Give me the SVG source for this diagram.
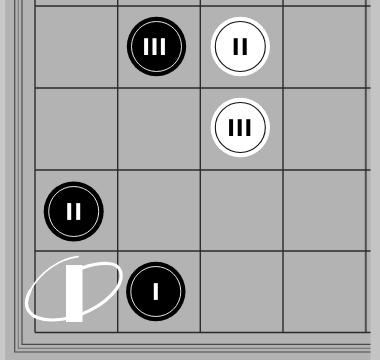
<svg xmlns="http://www.w3.org/2000/svg" width="380" height="360" viewBox="0 0 380 360">
<style>
.grid{stroke:#2b2b2b;stroke-width:1.4;fill:none}
.edge{stroke:#4a4a4a;stroke-width:1.2;fill:none}
.edge2{stroke:#7a7a7a;stroke-width:1.2;fill:none}
.bk{fill:#000}
.bk-ring{fill:none;stroke:#fff;stroke-width:0.9}
.wt{fill:#fff}
.wt-ring{fill:none;stroke:#111;stroke-width:1.1}
.wbar{fill:#fff}
.bbar{fill:#000}
</style>
<rect x="0" y="0" width="380" height="360" fill="#b3b3b3"/>
<rect x="0" y="0" width="5" height="360" fill="#c9c9c9"/>
<rect x="370.5" y="0" width="10" height="360" fill="#c4c4c4"/>
<g id="board">
<path class="edge" d="M14.7,0 V352 H370.5"/>
<path class="edge2" d="M18.3,0 V348.3 H370.5"/>
<path class="edge" d="M22,0 V344.3 H370.5"/>
<path class="grid" d="M35,0 V332.5 M117.7,0 V332.5 M200.3,0 V332.5 M283,0 V332.5"/>
<path d="M365.8,0 V332.5" stroke="#4f4f4f" stroke-width="2" fill="none"/>
<path class="grid" d="M35,6 H370.5 M35,88 H370.5 M35,170 H370.5 M35,251 H370.5 M35,332.5 H370.5"/>
</g>
<g id="black-III">
<circle class="bk" cx="156.5" cy="46.5" r="29.7"/>
<circle class="bk-ring" cx="156.5" cy="46.5" r="25"/>
<rect class="wbar" x="144.1" y="38.2" width="4" height="16.8"/>
<rect class="wbar" x="152.5" y="38.2" width="4" height="16.8"/>
<rect class="wbar" x="160.9" y="38.2" width="4" height="16.8"/>
</g>
<g id="white-II">
<circle class="wt" cx="240.3" cy="46.5" r="29.7"/>
<circle class="wt-ring" cx="240.3" cy="46.5" r="25"/>
<rect class="bbar" x="233.7" y="38.2" width="4" height="16.8"/>
<rect class="bbar" x="242.7" y="38.2" width="4" height="16.8"/>
</g>
<g id="white-III">
<circle class="wt" cx="240.3" cy="127.5" r="29.7"/>
<circle class="wt-ring" cx="240.3" cy="127.5" r="25"/>
<rect class="bbar" x="229.1" y="119.2" width="4" height="16.8"/>
<rect class="bbar" x="237.7" y="119.2" width="4" height="16.8"/>
<rect class="bbar" x="246.3" y="119.2" width="4" height="16.8"/>
</g>
<g id="black-II">
<circle class="bk" cx="73.7" cy="211.5" r="30"/>
<circle class="bk-ring" cx="73.7" cy="211.5" r="25"/>
<rect class="wbar" x="67.2" y="203.1" width="4" height="16.8"/>
<rect class="wbar" x="76.2" y="203.1" width="4" height="16.8"/>
</g>
<g id="black-I">
<circle class="bk" cx="155.8" cy="291.5" r="29.7"/>
<circle class="bk-ring" cx="155.8" cy="291.5" r="25"/>
<rect class="wbar" x="153.8" y="283.1" width="4" height="16.8"/>
</g>
<g id="white-marker">
<path d="M78,256.6 C60,258.5 40,272 30,291" fill="none" stroke="#fff" stroke-width="1.8" stroke-linecap="round"/>
<path d="M30,291 C21,308 30,320.5 53,320 C78,319.5 104,306 116.5,289 C125,276 122,264 108,263.5 C98,263.2 89,265.5 82,268" fill="none" stroke="#fff" stroke-width="3.2" stroke-linecap="round"/>
<rect x="66" y="265" width="16.5" height="57" fill="#fff"/>
</g>
</svg>
